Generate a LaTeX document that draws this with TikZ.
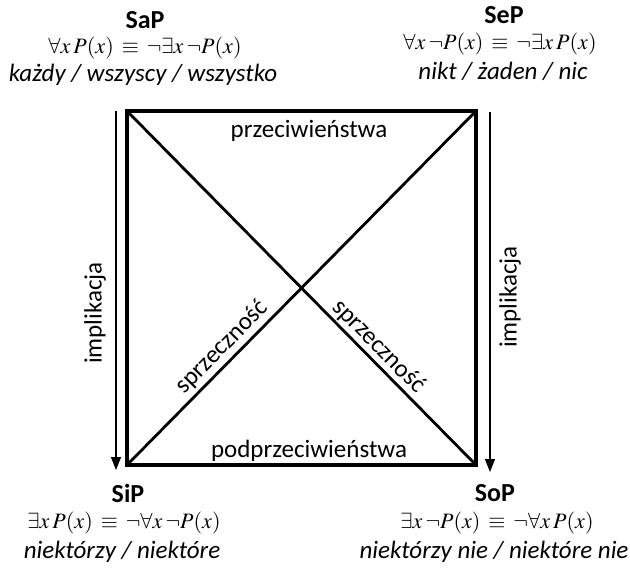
\documentclass[tikz,border=0pt]{standalone}
\usepackage{mathptmx}
\usepackage{fontspec}
\setmainfont{Carlito}
\usetikzlibrary{arrows.meta}
\begin{document}
\begin{tikzpicture}[x=1pt,y=-1pt,
  lbl/.style={font=\fontsize{25}{29}\selectfont, inner sep=0pt},
  title/.style={font=\fontsize{26}{30}\selectfont\bfseries, inner sep=0pt},
  frm/.style={font=\fontsize{22}{26}\selectfont, inner sep=0pt},
  ital/.style={font=\fontsize{25}{28}\selectfont\itshape, inner sep=0pt},
  impl/.style={-{Triangle[length=13pt,width=10pt]}, line width=1.4pt},
  box/.style={line width=4pt, line join=miter},
  diag/.style={line width=2.8pt}]
\useasboundingbox (0,0) rectangle (630,570);
\coordinate (A) at (127,111);
\coordinate (B) at (476,111);
\coordinate (C) at (127,465);
\coordinate (D) at (476,465);
\coordinate (L1) at (116,111);
\coordinate (L2) at (116,470);
\coordinate (R1) at (490,112);
\coordinate (R2) at (490,472);
\draw[diag] (A) -- (D) node[pos=0.693, sloped, above=2pt, lbl] {sprzeczność};
\draw[diag] (C) -- (B) node[pos=0.303, sloped, above=3pt, lbl] {sprzeczność};
\draw[box] (A) -- (B) -- (D) -- (C) -- cycle;
\draw[impl] (L1) -- (L2);
\draw[impl] (R1) -- (R2);
\node[lbl, rotate=90] (il) at (95,313) {implikacja};
\node[lbl, rotate=90] (ir) at (510,297) {implikacja};
\node[lbl] (top) at (309,131) {przeciwieństwa};
\node[lbl] (bot) at (309,451) {podprzeciwieństwa};
% SaP
\node[title] (sap) at (145,20) {SaP};
\node[frm] (sapf) at (145,48) {$\forall x\:P(x)\:\equiv\:\neg\exists x\:\neg P(x)$};
\node[ital] (sapi) at (143,75) {każdy / wszyscy / wszystko};
% SeP
\node[title] (sep) at (504,15) {SeP};
\node[frm] (sepf) at (500,44) {$\forall x\:\neg P(x)\:\equiv\:\neg\exists x\:P(x)$};
\node[ital] (sepi) at (503,71) {nikt / żaden / nic};
% SiP
\node[title] (sip) at (128,493) {SiP};
\node[frm] (sipf) at (124,523) {$\exists x\:P(x)\:\equiv\:\neg\forall x\:\neg P(x)$};
\node[ital] (sipi) at (122,552) {niektórzy / niektóre};
% SoP
\node[title] (sop) at (495,493) {SoP};
\node[frm] (sopf) at (497,523) {$\exists x\:\neg P(x)\:\equiv\:\neg\forall x\:P(x)$};
\node[ital] (sopi) at (494,552) {niektórzy nie / niektóre nie};
\end{tikzpicture}
\end{document}
